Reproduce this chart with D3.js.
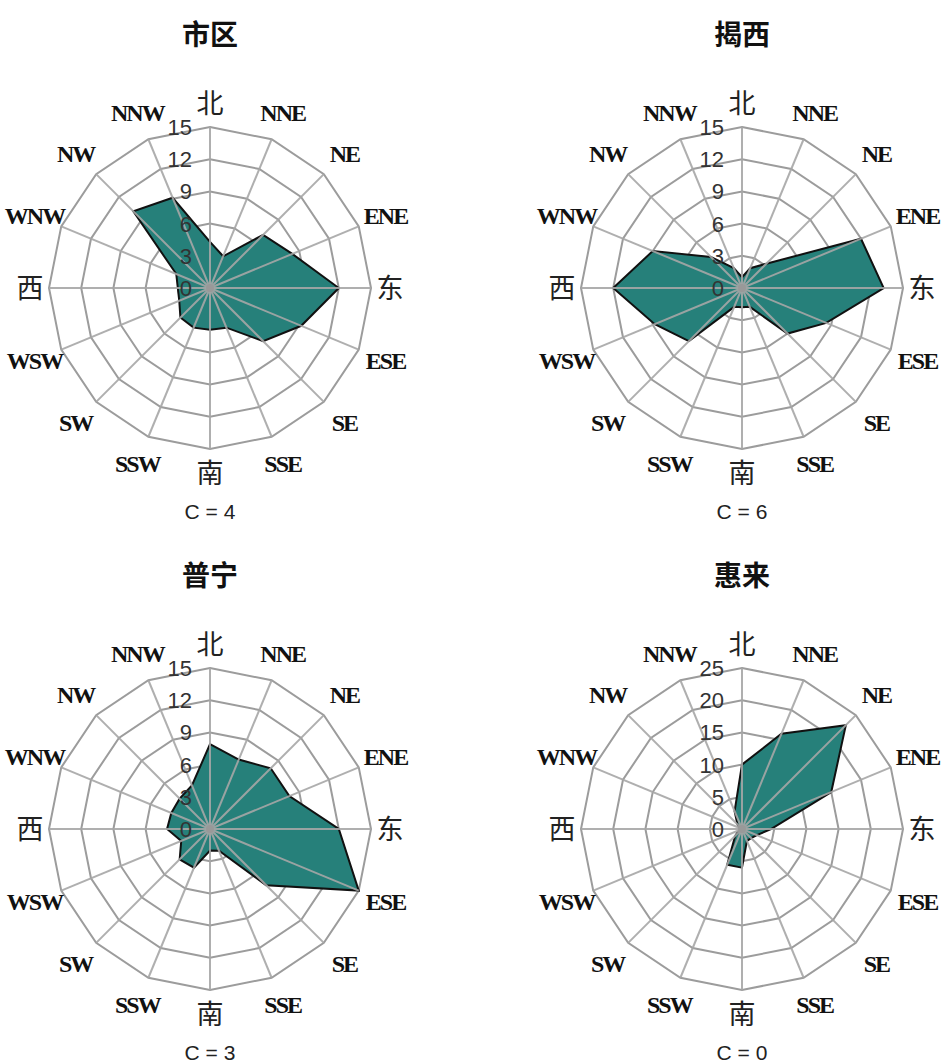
<!DOCTYPE html>
<html>
<head>
<meta charset="utf-8">
<script src="https://cdn.jsdelivr.net/npm/d3@7"></script>
<style>
  html, body { margin: 0; padding: 0; background: #fff; }
  svg { display: block; }
  .title { font-family: "Noto Sans CJK SC", sans-serif; font-weight: 700; font-size: 28px; fill: #111; }
  .calm { font-family: "Liberation Sans", Arial, sans-serif; font-size: 21px; fill: #222; }
  .tick { font-family: "Liberation Sans", Arial, sans-serif; font-size: 22px; fill: #333; }
  .dir { font-family: "Liberation Serif", "DejaVu Serif", serif; font-weight: 700; font-size: 24px; letter-spacing: -2px; fill: #111; }
  .dir-cn { font-family: "Noto Sans CJK SC", sans-serif; font-weight: 400; font-size: 27px; fill: #222; }
</style>
</head>
<body>
<svg id="chart"></svg>
<script>
// 16 wind directions, clockwise from north
const directions = ['北', 'NNE', 'NE', 'ENE', '东', 'ESE', 'SE', 'SSE', '南', 'SSW', 'SW', 'WSW', '西', 'WNW', 'NW', 'NNW'];

// wind frequency (%) per direction
const shiquValues = [4.3, 3.2, 7, 8.3, 12, 9.2, 7, 4, 3.9, 4, 3.9, 3.1, 3, 3.4, 10.1, 9.1];
const jiexiValues = [1, 2, 3.2, 12, 13.2, 8.5, 6, 1.9, 1.8, 1.9, 7, 8.8, 12, 9, 4.1, 2];
const puningValues = [7.9, 7, 8, 8, 12, 15, 7.4, 2.2, 2, 3.9, 4, 2.9, 4, 3.9, 4, 4.4];
const huilaiValues = [10, 16, 22.8, 15, 4.5, 2.5, 2, 2, 6, 6, 1.5, 0.5, 0.5, 0.5, 1, 3];

const ticks15 = [0, 3, 6, 9, 12, 15];
const ticks25 = [0, 5, 10, 15, 20, 25];

const titles = ['市区', '揭西', '普宁', '惠来'];
const calmLabels = ['C = 4', 'C = 6', 'C = 3', 'C = 0'];

const width = 941;
const height = 1063;
const outerRadius = 161;
const colX = [210, 742];
const rowY = [288, 829];

const svg = d3.select('#chart').attr('width', width).attr('height', height);

const angle = d3.scaleLinear().domain([0, directions.length]).range([0, 2 * Math.PI]);

// cardinal labels sit a little closer than the compass-point ones
function labelRadius(i) {
    if (i % 8 === 4) return 180;
    if (i % 8 === 0) return 185;
    return 190;
}

function drawRose(cx, cy, title, values, ticks, calmText) {
    const g = svg.append('g').attr('transform', `translate(${cx},${cy})`);
    const r = d3.scaleLinear().domain([0, d3.max(ticks)]).range([0, outerRadius]);

    const ringLine = d3.lineRadial()
        .angle((d, i) => angle(i))
        .radius((d) => r(d))
        .curve(d3.curveLinearClosed);

    // polygonal rings
    g.append('g')
        .selectAll('path')
        .data(ticks.filter((t) => t > 0))
        .join('path')
        .attr('d', (t) => ringLine(directions.map(() => t)))
        .attr('fill', 'none')
        .attr('stroke', '#9c9c9c')
        .attr('stroke-width', 2);

    // filled frequency polygon
    g.append('path')
        .attr('d', ringLine(values))
        .attr('fill', '#26807a')
        .attr('stroke', '#111')
        .attr('stroke-width', 2);

    // spokes on top
    g.append('g')
        .selectAll('line')
        .data(directions)
        .join('line')
        .attr('x1', 0)
        .attr('y1', 0)
        .attr('x2', (d, i) => r(d3.max(ticks)) * Math.sin(angle(i)))
        .attr('y2', (d, i) => -r(d3.max(ticks)) * Math.cos(angle(i)))
        .attr('stroke', '#a6a6a6')
        .attr('stroke-opacity', 0.9)
        .attr('stroke-width', 2);

    g.append('circle').attr('r', 4).attr('fill', '#999');

    // radial tick labels along the north spoke
    g.append('g')
        .selectAll('text')
        .data(ticks)
        .join('text')
        .attr('class', 'tick')
        .attr('x', -18)
        .attr('y', (t) => -r(t))
        .attr('dy', '0.36em')
        .attr('text-anchor', 'end')
        .text((t) => t);

    // direction labels
    g.append('g')
        .selectAll('text')
        .data(directions)
        .join('text')
        .attr('class', (d, i) => (i % 4 === 0 ? 'dir-cn' : 'dir'))
        .attr('x', (d, i) => labelRadius(i) * Math.sin(angle(i)))
        .attr('y', (d, i) => -labelRadius(i) * Math.cos(angle(i)))
        .attr('dy', '0.36em')
        .attr('text-anchor', 'middle')
        .text((d) => d);

    svg.append('text')
        .attr('class', 'title')
        .attr('x', cx)
        .attr('y', cy - 253)
        .attr('dy', '0.36em')
        .attr('text-anchor', 'middle')
        .text(title);

    svg.append('text')
        .attr('class', 'calm')
        .attr('x', cx)
        .attr('y', cy + 223)
        .attr('dy', '0.36em')
        .attr('text-anchor', 'middle')
        .text(calmText);
}

drawRose(colX[0], rowY[0], titles[0], shiquValues, ticks15, calmLabels[0]);
drawRose(colX[1], rowY[0], titles[1], jiexiValues, ticks15, calmLabels[1]);
drawRose(colX[0], rowY[1], titles[2], puningValues, ticks15, calmLabels[2]);
drawRose(colX[1], rowY[1], titles[3], huilaiValues, ticks25, calmLabels[3]);
</script>
</body>
</html>
